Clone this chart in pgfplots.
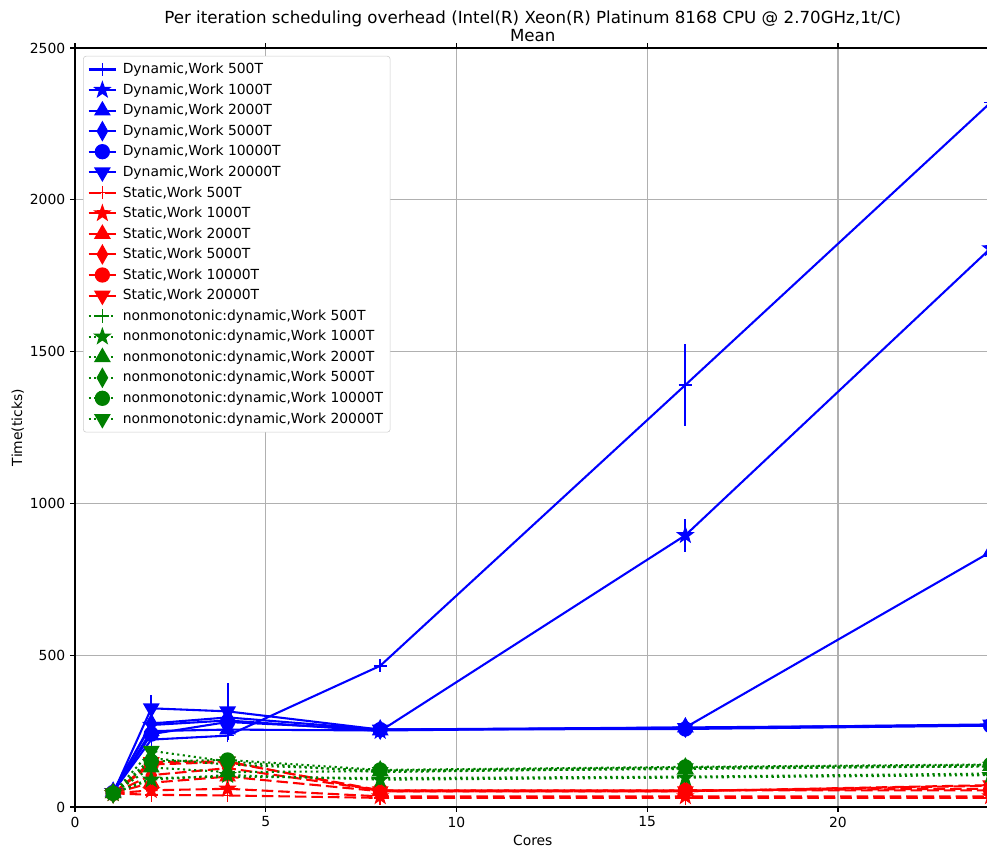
\documentclass[border=0pt]{standalone}
\usepackage{pgfplots}
\pgfplotsset{compat=1.18}
\usepackage{fontspec}
\setmainfont{DejaVu Sans}
\definecolor{mplgreen}{RGB}{0,128,0}
\definecolor{gridgray}{RGB}{176,176,176}
\definecolor{legframe}{RGB}{204,204,204}
\pgfdeclareplotmark{fstar}{%
 \pgfpathmoveto{\pgfpointpolar{90}{\pgfplotmarksize}}%
 \pgfpathlineto{\pgfpointpolar{126}{0.4\pgfplotmarksize}}%
 \pgfpathlineto{\pgfpointpolar{162}{\pgfplotmarksize}}%
 \pgfpathlineto{\pgfpointpolar{198}{0.4\pgfplotmarksize}}%
 \pgfpathlineto{\pgfpointpolar{234}{\pgfplotmarksize}}%
 \pgfpathlineto{\pgfpointpolar{270}{0.4\pgfplotmarksize}}%
 \pgfpathlineto{\pgfpointpolar{306}{\pgfplotmarksize}}%
 \pgfpathlineto{\pgfpointpolar{342}{0.4\pgfplotmarksize}}%
 \pgfpathlineto{\pgfpointpolar{18}{\pgfplotmarksize}}%
 \pgfpathlineto{\pgfpointpolar{54}{0.4\pgfplotmarksize}}%
 \pgfpathclose\pgfusepathqfillstroke}
\pgfplotsset{
  mP/.style={mark=+, mark size=4.8pt, mark options={solid, line width=1pt}},
  mS/.style={mark=fstar, mark size=5.5pt, mark options={solid, line width=1pt}},
  mT/.style={mark=triangle*, mark size=6pt, mark options={solid, line width=1pt}},
  mD/.style={mark=diamond*, mark size=6.5pt, mark options={solid, line width=1pt, xscale=0.75}},
  mC/.style={mark=*, mark size=5pt, mark options={solid, line width=1pt}},
  mV/.style={mark=triangle*, mark size=6pt, mark options={solid, line width=1pt, rotate=180}},
  dyn/.style={blue, solid, line width=1.5pt},
  sta/.style={red, dash pattern=on 8.3pt off 3.6pt, line width=1.5pt},
  non/.style={mplgreen, dash pattern=on 1.5pt off 2.5pt, line width=1.5pt},
  eb/.style={error bars/.cd, y dir=both, y explicit, error mark=none,
     error bar style={solid, line width=1.5pt}},
}
\begin{document}
\begin{tikzpicture}
\begin{axis}[
  at={(0,0)}, anchor=south west,
  scale only axis, width=659.2pt, height=546.5pt,
  xmin=0, xmax=24, ymin=0, ymax=2500,
  xtick={0,5,10,15,20}, ytick={0,500,1000,1500,2000,2500},
  tick align=outside, major tick length=3.5pt,
  tick style={black, line width=0.8pt},
  axis line style={line width=0.8pt},
  grid=major, major grid style={gridgray, line width=0.8pt},
  /pgf/number format/assume math mode=true,
  /pgf/number format/1000 sep={},
  ticklabel style={font=\fontsize{10}{12}\selectfont},
  xlabel={Cores}, ylabel={Time(ticks)},
  label style={font=\fontsize{10}{12}\selectfont},
  xlabel style={at={(axis description cs:0.5,-0.0435)}, anchor=center},
  ylabel style={at={(axis description cs:-0.0625,0.5)}, anchor=center},
  title={Per iteration scheduling overhead (Intel(R) Xeon(R) Platinum 8168 CPU @ 2.70GHz,1t/C)\\Mean},
  title style={at={(axis description cs:0.5,1.017)}, anchor=center, align=center,
    font=\fontsize{12}{13}\selectfont},
  legend cell align=left,
  legend image code/.code={\draw[mark repeat=2,mark phase=2] plot coordinates {(0cm,0cm) (0.35cm,0cm) (0.7cm,0cm)};},
  legend style={at={(0.0088,0.9895)}, anchor=north west, draw=legframe,
    rounded corners=2pt, fill=white,
    font=\fontsize{10}{12}\selectfont, row sep=1.7pt, column sep=2pt, inner sep=3pt},
]
% Dynamic
\addplot[dyn, mP, eb] coordinates {(1,50) +- (0,0) (2,222) +- (0,0) (4,235) +- (0,0) (8,465) +- (0,15) (16,1390) +- (0,135) (24,2320) +- (0,0)};
\addlegendentry{Dynamic,Work 500T}
\addplot[dyn, mS, eb] coordinates {(1,52) +- (0,0) (2,270) +- (0,0) (4,285) +- (0,0) (8,250) +- (0,0) (16,895) +- (0,55) (24,1840) +- (0,0)};
\addlegendentry{Dynamic,Work 1000T}
\addplot[dyn, mT] coordinates {(1,50) (2,250) (4,255) (8,252) (16,262) (24,840)};
\addlegendentry{Dynamic,Work 2000T}
\addplot[dyn, mD] coordinates {(1,50) (2,275) (4,295) (8,255) (16,262) (24,270)};
\addlegendentry{Dynamic,Work 5000T}
\addplot[dyn, mC] coordinates {(1,48) (2,240) (4,280) (8,255) (16,257) (24,268)};
\addlegendentry{Dynamic,Work 10000T}
\addplot[dyn, mV, eb] coordinates {(1,45) +- (0,0) (2,325) +- (0,45) (4,315) +- (0,95) (8,255) +- (0,0) (16,260) +- (0,0) (24,272) +- (0,0)};
\addlegendentry{Dynamic,Work 20000T}
% Static
\addplot[sta, mP] coordinates {(1,45) (2,40) (4,38) (8,30) (16,30) (24,30)};
\addlegendentry{Static,Work 500T}
\addplot[sta, mS] coordinates {(1,45) (2,55) (4,60) (8,35) (16,35) (24,35)};
\addlegendentry{Static,Work 1000T}
\addplot[sta, mT] coordinates {(1,45) (2,80) (4,100) (8,52) (16,52) (24,70)};
\addlegendentry{Static,Work 2000T}
\addplot[sta, mD] coordinates {(1,45) (2,105) (4,128) (8,55) (16,55) (24,60)};
\addlegendentry{Static,Work 5000T}
\addplot[sta, mC] coordinates {(1,45) (2,140) (4,148) (8,55) (16,55) (24,55)};
\addlegendentry{Static,Work 10000T}
\addplot[sta, mV] coordinates {(1,45) (2,148) (4,150) (8,52) (16,52) (24,72)};
\addlegendentry{Static,Work 20000T}
% nonmonotonic
\addplot[non, mP] coordinates {(1,45) (2,95) (4,100) (8,95) (16,100) (24,110)};
\addlegendentry{nonmonotonic:dynamic,Work 500T}
\addplot[non, mS] coordinates {(1,45) (2,90) (4,105) (8,90) (16,97) (24,105)};
\addlegendentry{nonmonotonic:dynamic,Work 1000T}
\addplot[non, mT] coordinates {(1,45) (2,130) (4,115) (8,118) (16,125) (24,135)};
\addlegendentry{nonmonotonic:dynamic,Work 2000T}
\addplot[non, mD] coordinates {(1,45) (2,160) (4,140) (8,120) (16,130) (24,138)};
\addlegendentry{nonmonotonic:dynamic,Work 5000T}
\addplot[non, mC] coordinates {(1,45) (2,150) (4,155) (8,122) (16,132) (24,140)};
\addlegendentry{nonmonotonic:dynamic,Work 10000T}
\addplot[non, mV] coordinates {(1,45) (2,185) (4,150) (8,115) (16,128) (24,133)};
\addlegendentry{nonmonotonic:dynamic,Work 20000T}
\end{axis}
\pgfresetboundingbox
\useasboundingbox (-54pt,-29.52pt) rectangle (656.64pt,581.04pt);
\end{tikzpicture}
\end{document}
